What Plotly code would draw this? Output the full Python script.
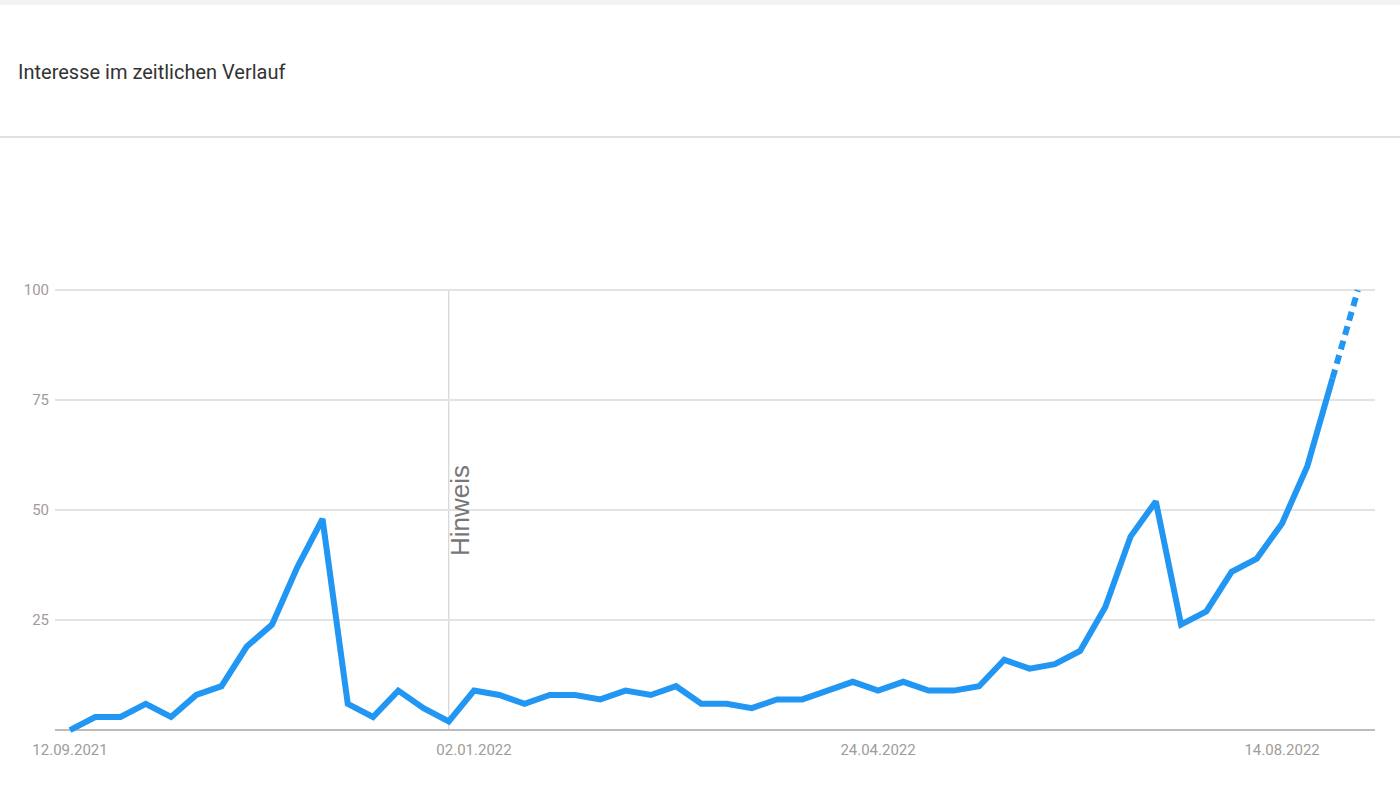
import pandas as pd
import plotly.graph_objects as go

# ---- data ----
start_date = "2021-09-12"
interest = [0, 3, 3, 6, 3, 8, 10, 19, 24, 37, 48, 6, 3, 9, 5, 2,
            9, 8, 6, 8, 8, 7, 9, 8, 10, 6, 6, 5, 7, 7, 9, 11,
            9, 11, 9, 9, 10, 16, 14, 15, 18, 28, 44, 52, 24, 27, 36, 39,
            47, 60, 80, 100]
tick_dates = ["2021-09-12", "2022-01-02", "2022-04-24", "2022-08-14"]
tick_labels = ["12.09.2021", "02.01.2022", "24.04.2022", "14.08.2022"]
note_date = "2021-12-26"
note_text = "Hinweis"
y_ticks = [25, 50, 75, 100]
title_text = "Interesse im zeitlichen Verlauf"

dates = pd.date_range(start_date, periods=len(interest), freq="7D")

W, H = 1400, 810
L, R, T, B = 55, 25, 277, 71
plot_h = H - T - B

week = pd.Timedelta(days=7)
x_range = [dates[0] - 0.594 * week, dates[-1] + 0.68 * week]

blue = "#2196F3"
font_fam = "Roboto, sans-serif"

fig = go.Figure()
fig.add_trace(go.Scatter(x=dates[:-1], y=interest[:-1], mode="lines",
                         line=dict(color=blue, width=6), hoverinfo="x+y"))
fig.add_trace(go.Scatter(x=dates[-2:], y=interest[-2:], mode="lines",
                         line=dict(color=blue, width=6, dash="9px,6px"), hoverinfo="x+y"))

# note line
fig.add_shape(type="line", xref="x", yref="y", x0=note_date, x1=note_date, y0=0, y1=100,
              line=dict(color="#cccccc", width=1), layer="below")
fig.add_annotation(x=note_date, y=50, xref="x", yref="y", text=note_text, textangle=-90,
                   showarrow=False, xanchor="center", yanchor="middle", xshift=11,
                   font=dict(family="Liberation Sans, Arial, sans-serif", size=26, color="#777777"))

# header band and separator
def py(pix):
    return (H - B - pix) / plot_h

def px(pix):
    return (pix - L) / (W - L - R)

fig.add_shape(type="rect", xref="paper", yref="paper", x0=px(0), x1=px(W), y0=py(5), y1=py(0),
              fillcolor="#f3f3f3", line=dict(width=0))
fig.add_shape(type="line", xref="paper", yref="paper", x0=px(0), x1=px(W), y0=py(137), y1=py(137),
              line=dict(color="#e0e0e0", width=2))

fig.update_layout(
    width=W, height=H, autosize=False,
    margin=dict(l=L, r=R, t=T, b=B),
    paper_bgcolor="white", plot_bgcolor="white",
    showlegend=False,
    title=dict(text=title_text, xref="container", yref="container", x=18 / W, y=1 - 72 / H,
               xanchor="left", yanchor="middle",
               font=dict(family=font_fam, size=20, color="#333333")),
    xaxis=dict(type="date", range=x_range, tickvals=tick_dates, ticktext=tick_labels,
               showgrid=False, zeroline=False, showline=False, ticks="",
               tickfont=dict(family=font_fam, size=15, color="#a09c9a"), fixedrange=True),
    yaxis=dict(range=[-2, 103], tickvals=y_ticks, showgrid=True, gridcolor="#e3e3e3", gridwidth=2,
               zeroline=True, zerolinecolor="#bdbdbd", zerolinewidth=2, showline=False, ticks="",
               ticklabelstandoff=5,
               tickfont=dict(family=font_fam, size=15, color="#a09c9a"), fixedrange=True),
)

fig.write_html("out.html", config={"displayModeBar": False},
               post_script="document.body.style.margin='0';")
